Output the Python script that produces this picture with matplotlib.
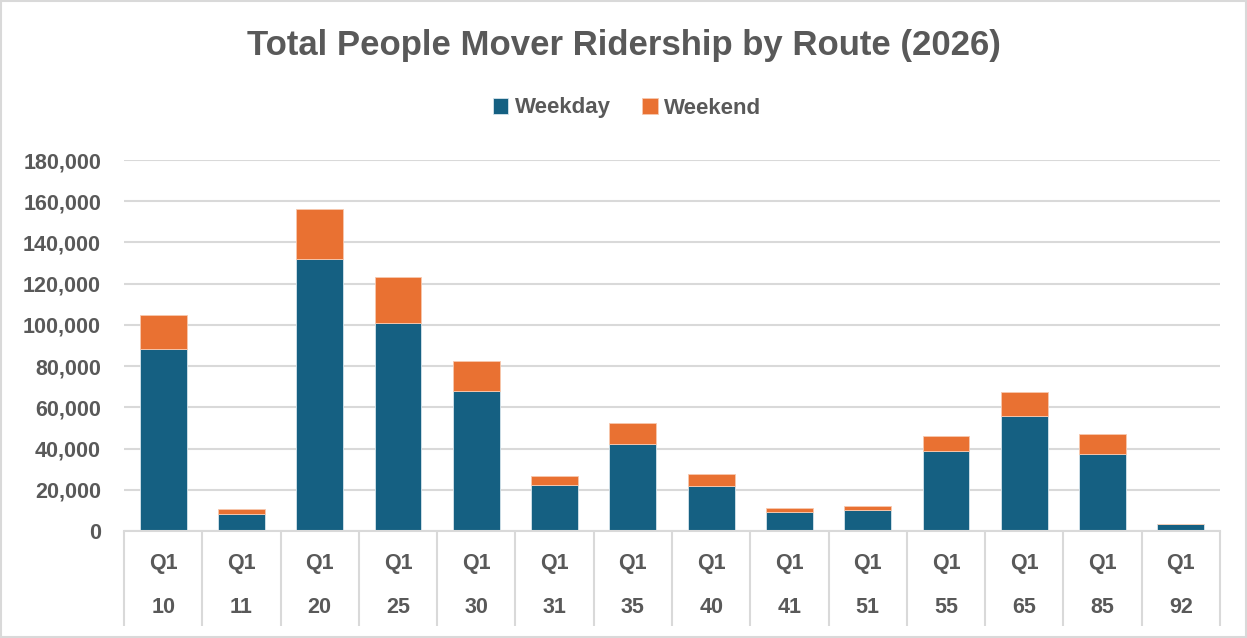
import matplotlib
matplotlib.use("Agg")
import matplotlib.pyplot as plt
from matplotlib.patches import Rectangle
import matplotlib.transforms as mtransforms
import numpy as np

routes = ["10", "11", "20", "25", "30", "31", "35", "40", "41", "51", "55", "65", "85", "92"]
quarters = ["Q1"] * len(routes)
weekday = [88200, 8300, 132100, 101000, 67800, 22500, 42300, 22000, 9400, 10400, 38900, 55700, 37600, 3400]
weekend = [16500, 2300, 23900, 22000, 14600, 4400, 10300, 5500, 1600, 1900, 7100, 11500, 9700, 200]

BLUE = "#156082"
ORANGE = "#E97132"
GRAY = "#595959"
GRID = "#D9D9D9"

plt.rcParams['font.family'] = ['Liberation Sans', 'DejaVu Sans']

fig = plt.figure(figsize=(12.47, 6.38), dpi=100)
fig.patches.append(Rectangle((0.001, 0.001), 0.998, 0.997, transform=fig.transFigure,
                             fill=False, edgecolor=GRID, linewidth=1.5))

ax = fig.add_axes([124/1247, 1 - 531/638, (1220-124)/1247, (531-160)/638])
x = np.arange(len(routes))
ax.bar(x, weekday, width=0.6, color=BLUE, edgecolor="#d6e4ec", linewidth=0.6, label="Weekday", zorder=3)
ax.bar(x, weekend, width=0.6, bottom=weekday, color=ORANGE, edgecolor="#f7c8ae", linewidth=0.6, label="Weekend", zorder=3)

ax.set_xlim(-0.5, len(routes) - 0.5)
ax.set_ylim(0, 180000)
ax.set_yticks(np.arange(0, 180001, 20000))
ax.set_yticklabels([f"{v:,}" for v in range(0, 180001, 20000)])
ax.yaxis.grid(True, color=GRID, linewidth=1.5, zorder=0)
ax.set_axisbelow(True)
for s in ["left", "right", "top"]:
    ax.spines[s].set_visible(False)
ax.spines["bottom"].set_color(GRID)
ax.spines["bottom"].set_linewidth(1.5)
ax.spines["bottom"].set_zorder(4)
ax.tick_params(axis="y", length=0, pad=16.5, labelsize=15.5, labelcolor=GRAY)
for t in ax.get_yticklabels():
    t.set_fontweight("bold")
ax.set_xticks([])

trans = mtransforms.blended_transform_factory(ax.transData, ax.transAxes)
for i, (q, r) in enumerate(zip(quarters, routes)):
    ax.text(i, (531 - 563.5) / 371, q, transform=trans, ha="center", va="center",
            fontsize=15.5, fontweight="bold", color=GRAY)
    ax.text(i, (531 - 607.5) / 371, r, transform=trans, ha="center", va="center",
            fontsize=15.5, fontweight="bold", color=GRAY)
ax.vlines(np.arange(len(routes) + 1) - 0.5, -0.255, 0, transform=trans,
          colors=GRID, linewidth=1.5, clip_on=False)

fig.text(0.5, 1 - 46/638, "Total People Mover Ridership by Route (2026)", ha="center", va="center",
         fontsize=25, fontweight="bold", color=GRAY)

leg = fig.legend(loc="center", bbox_to_anchor=(0.503, 1 - 108/638), ncol=2, frameon=False,
                 fontsize=16, handlelength=0.7, handleheight=0.7, handletextpad=0.3,
                 columnspacing=1.4)
for t in leg.get_texts():
    t.set_color(GRAY)
    t.set_fontweight("bold")

fig.savefig("out.png", dpi=100)
